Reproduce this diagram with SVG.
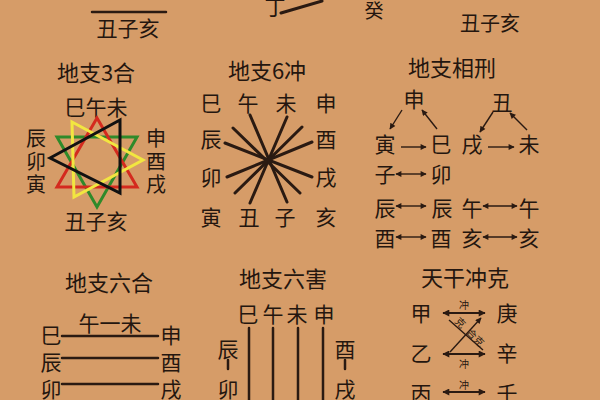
<svg xmlns="http://www.w3.org/2000/svg" width="600" height="400" viewBox="0 0 600 400">
<defs>
<style>
text{font-family:"Noto Sans CJK SC","Noto Sans CJK TC",sans-serif;fill:#24160f;text-anchor:middle;dominant-baseline:central;}
.t{font-size:22px;}
.c{font-size:21px;}
.v{font-size:20px;}
.s{font-size:10px;}
.ln{stroke:#2a1a12;stroke-width:2.5;fill:none;stroke-linecap:round;}
.th{stroke:#2a1a12;stroke-width:1.4;fill:none;}
.ar{stroke:#2a1a12;stroke-width:1.8;fill:none;}
.tri{fill:none;stroke-width:3;stroke-linejoin:miter;}
</style>
<marker id="ah" viewBox="0 0 10 10" refX="9" refY="5" markerWidth="8" markerHeight="6" orient="auto-start-reverse" markerUnits="userSpaceOnUse"><path d="M0,0 L10,5 L0,10 z" fill="#2a1a12"/></marker>
<marker id="ah2" viewBox="0 0 10 10" refX="9" refY="5" markerWidth="9" markerHeight="7" orient="auto-start-reverse" markerUnits="userSpaceOnUse"><path d="M0,0 L10,5 L0,10 z" fill="#2a1a12"/></marker>
</defs>
<rect width="600" height="400" fill="#D69C68"/>

<g id="top">
<line class="ln" x1="92" y1="12" x2="166" y2="12"/>
<text class="c" x="128" y="27">丑子亥</text>
<text class="c" x="275" y="6">丁</text>
<line class="ln" x1="281" y1="13" x2="322" y2="1" style="stroke-width:3"/>
<text class="c" x="374" y="9" style="font-size:19px">癸</text>
<text class="c" x="490" y="22" style="font-size:20px">丑子亥</text>
</g>

<g id="sanhe">
<text class="t" x="96" y="71">地支3合</text>
<text class="c" x="96" y="106">巳午未</text>
<text class="v" x="36" y="137">辰</text>
<text class="v" x="36" y="160">卯</text>
<text class="v" x="36" y="183">寅</text>
<text class="v" x="156" y="137">申</text>
<text class="v" x="156" y="160">酉</text>
<text class="v" x="156" y="183">戌</text>
<text class="c" x="96" y="220">丑子亥</text>
<polygon class="tri" points="57,137 137,137 97,207" stroke="#2f8a2a"/>
<polygon class="tri" points="97,118 57,187 137,187" stroke="#d42a1e"/>
<polygon class="tri" points="72,122 143,160 74,197" stroke="#f2e640"/>
<polygon class="tri" points="50,158 120,120 120,193" stroke="#111"/>
</g>

<g id="liuchong">
<text class="t" x="267" y="69">地支6冲</text>
<text class="c" x="211" y="102">巳</text>
<text class="c" x="248" y="102">午</text>
<text class="c" x="286" y="102">未</text>
<text class="c" x="326" y="102">申</text>
<text class="c" x="211" y="138">辰</text>
<text class="c" x="211" y="176">卯</text>
<text class="c" x="211" y="216">寅</text>
<text class="c" x="326" y="138">酉</text>
<text class="c" x="326" y="176">戌</text>
<text class="c" x="326" y="216">亥</text>
<text class="c" x="249" y="216">丑</text>
<text class="c" x="285" y="216">子</text>
</g>

<g id="xiangxing">
<text class="t" x="452" y="66">地支相刑</text>
<text class="c" x="414" y="98">申</text>
<text class="c" x="502" y="101">丑</text>
<text class="c" x="385" y="143">寅</text>
<text class="c" x="441" y="143">巳</text>
<text class="c" x="472" y="143">戌</text>
<text class="c" x="529" y="143">未</text>
<text class="c" x="385" y="173">子</text>
<text class="c" x="441" y="173">卯</text>
<text class="c" x="385" y="207">辰</text>
<text class="c" x="442" y="207">辰</text>
<text class="c" x="472" y="207">午</text>
<text class="c" x="529" y="207">午</text>
<text class="c" x="385" y="237">酉</text>
<text class="c" x="441" y="237">酉</text>
<text class="c" x="472" y="237">亥</text>
<text class="c" x="529" y="237">亥</text>
</g>

<g id="liuhe">
<text class="t" x="109" y="281">地支六合</text>
<text class="c" x="110" y="322">午一未</text>
<text class="c" x="51" y="334">巳</text>
<text class="c" x="171" y="334">申</text>
<text class="c" x="51" y="361">辰</text>
<text class="c" x="171" y="361">酉</text>
<text class="c" x="51" y="388">卯</text>
<text class="c" x="171" y="388">戌</text>
<text class="c" x="51" y="411">寅</text>
<text class="c" x="171" y="411">亥</text>
</g>

<g id="liuhai">
<text class="t" x="283" y="277">地支六害</text>
<text class="c" x="248" y="313">巳</text>
<text class="c" x="273" y="313">午</text>
<text class="c" x="297" y="313">未</text>
<text class="c" x="324" y="313">申</text>
<text class="c" x="228" y="348">辰</text>
<text class="c" x="228" y="388">卯</text>
<text class="c" x="345" y="348">酉</text>
<text class="c" x="345" y="388">戌</text>
</g>

<g id="tiangan">
<text class="t" x="465" y="276">天干冲克</text>
<text class="c" x="421" y="312">甲</text>
<text class="c" x="507" y="312">庚</text>
<text class="c" x="421" y="352">乙</text>
<text class="c" x="507" y="352">辛</text>
<text class="c" x="421" y="392">丙</text>
<text class="c" x="507" y="392">壬</text>
<text class="s" x="464" y="304">冲</text>
<text class="s" x="464" y="363">冲</text>
<text class="s" x="464" y="384">冲</text>
<text class="s" x="461" y="322" transform="rotate(45 461 322)">克</text>
<text class="s" x="476" y="337" transform="rotate(45 476 337)">合克</text>
</g>

<g id="connectors">
<line class="ln" x1="250" y1="115" x2="287" y2="202" style="stroke-width:3"/>
<line class="ln" x1="287" y1="117" x2="250" y2="203" style="stroke-width:3"/>
<line class="ln" x1="233" y1="128" x2="300" y2="193" style="stroke-width:3"/>
<line class="ln" x1="302" y1="127" x2="235" y2="193" style="stroke-width:3"/>
<line class="ln" x1="225" y1="143" x2="312" y2="177" style="stroke-width:3"/>
<line class="ln" x1="312" y1="142" x2="227" y2="177" style="stroke-width:3"/>

<line class="th" x1="402" y1="110" x2="390" y2="129" marker-end="url(#ah)"/>
<line class="th" x1="437" y1="129" x2="422" y2="110" marker-end="url(#ah)"/>
<line class="th" x1="401" y1="147" x2="426" y2="147" marker-end="url(#ah)"/>
<line class="th" x1="493" y1="112" x2="480" y2="132" marker-end="url(#ah)"/>
<line class="th" x1="527" y1="130" x2="510" y2="113" marker-end="url(#ah)"/>
<line class="th" x1="488" y1="147" x2="514" y2="147" marker-end="url(#ah)"/>
<line class="th" x1="396" y1="174" x2="426" y2="174" marker-start="url(#ah)" marker-end="url(#ah)"/>
<line class="th" x1="396" y1="206" x2="426" y2="206" marker-start="url(#ah)" marker-end="url(#ah)"/>
<line class="th" x1="483" y1="206" x2="517" y2="206" marker-start="url(#ah)" marker-end="url(#ah)"/>
<line class="th" x1="396" y1="237" x2="426" y2="237" marker-start="url(#ah)" marker-end="url(#ah)"/>
<line class="th" x1="483" y1="237" x2="517" y2="237" marker-start="url(#ah)" marker-end="url(#ah)"/>

<line class="ln" x1="62" y1="336" x2="158" y2="336"/>
<line class="ln" x1="62" y1="358" x2="158" y2="358"/>
<line class="ln" x1="62" y1="384" x2="158" y2="384"/>

<line class="ln" x1="249" y1="328" x2="249" y2="402"/>
<line class="ln" x1="273" y1="328" x2="273" y2="402"/>
<line class="ln" x1="298" y1="328" x2="298" y2="402"/>
<line class="ln" x1="323" y1="328" x2="323" y2="402"/>
<line class="ln" x1="228" y1="360" x2="228" y2="369"/>
<line class="ln" x1="345" y1="360" x2="345" y2="369"/>

<line class="ar" x1="443" y1="313" x2="485" y2="313" marker-start="url(#ah2)" marker-end="url(#ah2)"/>
<line class="ar" x1="443" y1="354" x2="485" y2="354" marker-start="url(#ah2)" marker-end="url(#ah2)"/>
<line class="ar" x1="443" y1="392" x2="485" y2="392" marker-start="url(#ah2)" marker-end="url(#ah2)"/>
<line class="th" x1="449" y1="320" x2="483" y2="350"/>
<line class="th" x1="450" y1="352" x2="481" y2="318" marker-end="url(#ah)"/>
</g>
</svg>
